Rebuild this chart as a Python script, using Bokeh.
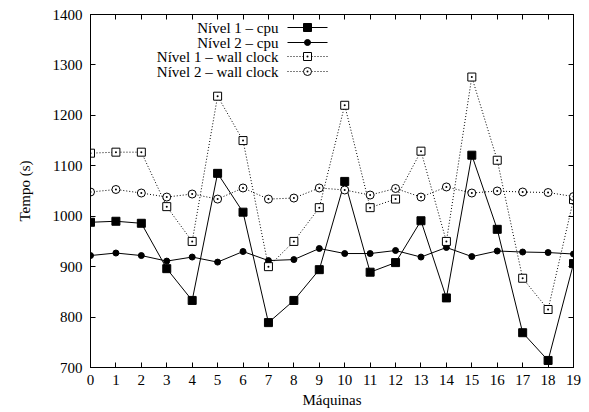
from bokeh.plotting import figure
from bokeh.models import (LinearAxis, FixedTicker, Range1d, CustomLabelingPolicy)
from bokeh.core.properties import value
from bokeh.embed import file_html
from bokeh.resources import INLINE

# ---- data ----
maquinas = list(range(20))
nivel1_cpu = [988, 990, 986, 896, 833, 1085, 1008, 789, 833, 894,
              1069, 889, 908, 991, 838, 1121, 974, 769, 714, 906]
nivel2_cpu = [922, 927, 922, 911, 919, 909, 930, 912, 914, 936,
              926, 926, 932, 919, 938, 920, 931, 929, 928, 925]
nivel1_wall = [1125, 1127, 1127, 1019, 950, 1238, 1150, 900, 950, 1017,
               1220, 1017, 1034, 1129, 950, 1276, 1111, 877, 815, 1033]
nivel2_wall = [1048, 1053, 1046, 1038, 1044, 1034, 1056, 1034, 1036, 1056,
               1052, 1042, 1055, 1038, 1058, 1046, 1050, 1048, 1047, 1039]
y_ticks = [700, 800, 900, 1000, 1100, 1200, 1300, 1400]
series_labels = ["Nível 1 – cpu", "Nível 2 – cpu",
                 "Nível 1 – wall clock", "Nível 2 – wall clock"]

FONT = "Liberation Serif"
FS = "15px"

p = figure(width=589, height=412, output_backend="svg", toolbar_location=None,
           x_range=Range1d(0, 19), y_range=Range1d(700, 1400),
           x_axis_location=None, y_axis_location=None,
           min_border_left=90, min_border_right=16,
           min_border_top=14, min_border_bottom=45)
p.background_fill_color = "white"
p.border_fill_color = "white"
p.outline_line_color = "black"
p.outline_line_width = 1
p.xgrid.visible = False
p.ygrid.visible = False

no_labels = CustomLabelingPolicy(code="""
for (const i of [...indices]) { indices.unset(i) }
return indices
""")


def style_axis(ax, ticks, show_labels):
    ax.ticker = FixedTicker(ticks=ticks)
    ax.major_tick_in = 5
    ax.major_tick_out = 0
    ax.minor_tick_in = 0
    ax.minor_tick_out = 0
    ax.axis_line_color = "black"
    ax.major_tick_line_color = "black"
    ax.major_label_text_font = FONT
    ax.major_label_text_color = "black"
    ax.major_label_text_font_size = FS
    ax.axis_label_text_font = FONT
    ax.axis_label_text_font_style = "normal"
    ax.axis_label_text_color = "black"
    ax.axis_label_text_font_size = FS
    if show_labels:
        ax.major_label_standoff = 7
    else:
        ax.major_label_overrides = {t: "" for t in ticks}
        ax.major_label_policy = no_labels
        ax.major_label_standoff = 0


xb = LinearAxis(axis_label="Máquinas")
style_axis(xb, maquinas, True)
xb.axis_label_standoff = 4
p.add_layout(xb, "below")

yl = LinearAxis(axis_label="Tempo (s)")
style_axis(yl, y_ticks, True)
yl.major_label_standoff = 8
yl.axis_label_standoff = 17
p.add_layout(yl, "left")

xt = LinearAxis()
style_axis(xt, maquinas, False)
p.add_layout(xt, "above")

yr = LinearAxis()
style_axis(yr, y_ticks, False)
p.add_layout(yr, "right")

# ---- series ----
p.line(maquinas, nivel1_cpu, line_color="black", line_width=1)
p.scatter(maquinas, nivel1_cpu, marker="square", size=8,
          fill_color="black", line_color="black")

p.line(maquinas, nivel2_cpu, line_color="black", line_width=1)
p.scatter(maquinas, nivel2_cpu, marker="circle", size=6,
          fill_color="black", line_color="black")

p.line(maquinas, nivel1_wall, line_color="black", line_width=1, line_dash="1 2")
p.scatter(maquinas, nivel1_wall, marker="square_dot", size=8,
          fill_color="white", line_color="black", line_width=1)

p.line(maquinas, nivel2_wall, line_color="black", line_width=1, line_dash="1 2")
p.scatter(maquinas, nivel2_wall, marker="circle_dot", size=8,
          fill_color="white", line_color="black", line_width=1)

# ---- legend (gnuplot style: label left, sample right) in pixel-like ranges ----
p.extra_x_ranges = {"lx": Range1d(0, 483)}
p.extra_y_ranges = {"ly": Range1d(353, 0)}
rows = [13, 28, 42, 57]
dashes = ["solid", "solid", "1 2", "1 2"]
markers = ["square", "circle", "square_dot", "circle_dot"]
msizes = [8, 6, 8, 8]
mfills = ["black", "black", "white", "white"]
for lab, ry, dsh, mk, ms, mf in zip(series_labels, rows, dashes, markers, msizes, mfills):
    p.segment(x0=[197], y0=[ry], x1=[237], y1=[ry], line_color="black",
              line_width=1, line_dash=dsh, x_range_name="lx", y_range_name="ly")
    p.scatter(x=[217], y=[ry], marker=mk, size=ms, fill_color=mf,
              line_color="black", x_range_name="lx", y_range_name="ly")
    p.text(x=[188], y=[ry], text=[lab], text_align="right", text_baseline="middle",
           text_font=value(FONT), text_font_size=FS, text_color="black",
           x_range_name="lx", y_range_name="ly")

open("out.html", "w").write(file_html(p, INLINE))
